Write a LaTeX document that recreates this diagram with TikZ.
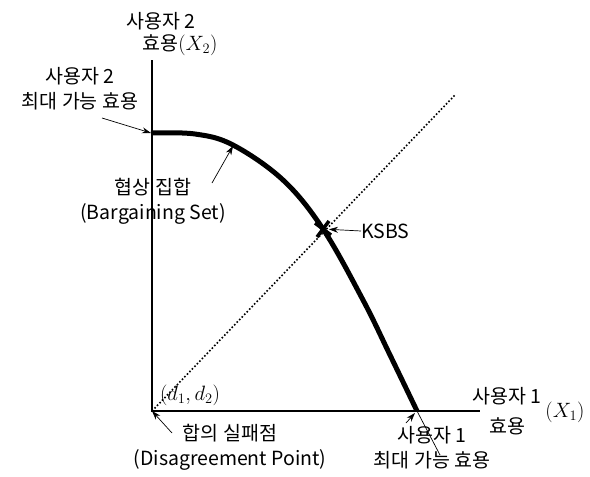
\documentclass[tikz,border=0pt]{standalone}
\usepackage{fontspec}
\newfontfamily\kofont{Noto Sans CJK KR}
\usetikzlibrary{positioning,arrows.meta}

\begin{document}
\begin{tikzpicture}[
    x=1pt,
    y=-1pt,
    font=\kofont\fontsize{19.5}{25}\selectfont,
    lbl/.style={align=center, inner sep=0pt},
    mathlbl/.style={inner sep=0pt, font=\rmfamily\fontsize{20}{24}\selectfont},
    ptr/.style={-{Stealth[length=9pt,width=6pt]}, line width=0.7pt},
    axis/.style={line width=1.5pt},
    frontier/.style={line width=5pt}
]
\useasboundingbox (0,0) rectangle (590,477);

% points
\coordinate (O) at (152,411);
\coordinate (ytop) at (152,60);
\coordinate (xend) at (480,411);
\coordinate (ymax) at (151,133);
\coordinate (xmax) at (417,411);
\coordinate (ksbs) at (323,229);
\coordinate (dend) at (455,95);
\coordinate (bsetpt) at (233,146);

% axes
\draw[axis] (ytop) -- (O) -- (xend);

% line from disagreement point
\draw[dotted, line width=1.6pt] (O) -- (dend);

% bargaining set
\draw[frontier] plot[smooth, tension=0.6] coordinates {(151,133) (195,134) (233,145) (283,180) (323,229) (363,300) (390,355) (417,411)};
\draw[line width=0.7pt] (xmax) -- (440,455);

% KSBS mark
\draw[line width=3.5pt] (ksbs) +(-8,-6) -- +(8,6) (ksbs) +(-6,8) -- +(6,-8);

% labels
\node[lbl] (u2name) at (161,21) {사용자 2};
\node[lbl] (u2util) at (180,45) {효용{\rmfamily$(X_2)$}};
\node[lbl] (u2max) at (80,89) {사용자 2\\최대 가능 효용};
\node[lbl] (bset) at (153,201) {협상 집합\\(Bargaining Set)};
\node[lbl, anchor=west] (klbl) at (361,231) {KSBS};
\node[mathlbl] (dpt) at (190,395) {$(d_1,d_2)$};
\node[lbl] (dis) at (230,447) {합의 실패점\\(Disagreement Point)};
\node[lbl] (u1name) at (507,396) {사용자 1};
\node[mathlbl] (u1x) at (565,412) {$(X_1)$};
\node[lbl] (u1util) at (507,426) {효용};
\node[lbl] (u1max) at (432,448) {사용자 1\\최대 가능 효용};

% pointers
\coordinate (u2tail) at (102,118);
\coordinate (btail) at (212,183);
\coordinate (dtail) at (172,433);
\coordinate (u1tail) at (406,423);
\draw[ptr] (u2tail) -- (ymax);
\draw[ptr] (btail) -- (bsetpt);
\draw[ptr, shorten >=6pt] (klbl.west) -- (ksbs);
\draw[ptr] (dtail) -- (O);
\draw[ptr] (u1tail) -- (415,413);
\end{tikzpicture}
\end{document}
